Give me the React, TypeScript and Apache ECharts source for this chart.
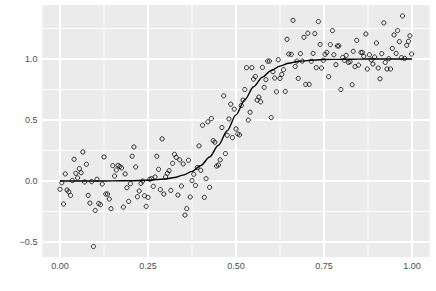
import React, { useEffect, useRef } from "react";
import * as echarts from "echarts";

// Scatter points
const pointX = [
  0.000, 0.005, 0.010, 0.015, 0.020, 0.025, 0.030, 0.035, 0.040, 0.045,
  0.050, 0.055, 0.060, 0.065, 0.070, 0.075, 0.080, 0.085, 0.090, 0.095,
  0.100, 0.105, 0.110, 0.115, 0.120, 0.125, 0.130, 0.135, 0.140, 0.145,
  0.150, 0.155, 0.160, 0.165, 0.170, 0.175, 0.180, 0.185, 0.190, 0.195,
  0.200, 0.205, 0.210, 0.215, 0.220, 0.225, 0.230, 0.235, 0.240, 0.245,
  0.250, 0.255,
  0.260, 0.265, 0.270, 0.275, 0.280, 0.285, 0.290, 0.295, 0.300, 0.305,
  0.310, 0.315, 0.320, 0.325, 0.330, 0.335, 0.340, 0.345, 0.350, 0.355,
  0.360, 0.365, 0.370, 0.375, 0.380, 0.385, 0.390, 0.395, 0.400, 0.405,
  0.410, 0.415, 0.420, 0.425, 0.430, 0.435, 0.440, 0.445, 0.450, 0.455,
  0.460, 0.465, 0.470, 0.475, 0.480, 0.485, 0.490, 0.495, 0.500, 0.505,
  0.510, 0.515, 0.520, 0.525, 0.530, 0.535, 0.540, 0.545, 0.550, 0.555,
  0.560, 0.565, 0.570, 0.575, 0.580, 0.585, 0.590, 0.595, 0.600, 0.605,
  0.610, 0.615, 0.620, 0.625, 0.630, 0.635, 0.640, 0.645, 0.650,
  0.657, 0.662, 0.668, 0.673, 0.677, 0.683, 0.688, 0.693, 0.698, 0.704,
  0.708, 0.714, 0.719, 0.724, 0.728, 0.734, 0.739, 0.743, 0.748, 0.753,
  0.758, 0.763, 0.768, 0.774, 0.778, 0.784, 0.788, 0.792, 0.798, 0.803,
  0.808, 0.813, 0.819, 0.824,
  0.830, 0.833, 0.838, 0.843, 0.848, 0.855, 0.859, 0.863, 0.869, 0.873,
  0.879, 0.884, 0.889, 0.894, 0.899, 0.904, 0.909, 0.914, 0.920, 0.924,
  0.929, 0.934, 0.939, 0.944, 0.949, 0.955, 0.959, 0.964, 0.970, 0.973,
  0.979, 0.985, 0.990, 0.994, 0.999,
];
const pointY = [
  -0.068, -0.014, -0.189, 0.058, -0.074, -0.088, -0.118, 0.005, 0.178, 0.063,
  0.025, 0.101, 0.068, 0.238, -0.008, 0.137, -0.118, -0.181, -0.005, -0.537,
  -0.241, 0.014, -0.184, -0.194, -0.025, 0.197, -0.107, -0.107, -0.148, -0.227,
  0.126, 0.041, 0.090, 0.129, 0.118, 0.107, -0.214, 0.058, -0.055, -0.167,
  -0.022, 0.203, 0.279, 0.115, -0.129, -0.082, -0.019, 0.000, -0.121, -0.208,
  -0.134, 0.014,
  0.019, -0.044, 0.033, 0.203, 0.096, -0.071, 0.345, -0.107, 0.033, 0.063,
  0.085, -0.077, 0.145, 0.219, 0.194, -0.115, 0.173, -0.041, 0.140, -0.279,
  -0.227, 0.170, -0.131, 0.003, 0.055, -0.036, 0.110, 0.288, 0.088, 0.457,
  -0.134, 0.019, 0.485, -0.052, 0.512, 0.331, 0.318, 0.123, 0.131, 0.173,
  0.438, 0.698, 0.225, 0.375, 0.509, 0.630, 0.356, 0.589, 0.427, 0.386,
  0.378, 0.619, 0.663, 0.750, 0.929, 0.499, 0.564, 0.929, 0.835, 0.857,
  0.663, 0.688, 0.649, 0.931, 0.767, 0.830, 0.983, 0.983, 0.520, 0.896,
  0.844, 0.731, 0.994, 0.841, 0.874, 0.912, 0.734, 1.161, 1.041,
  1.038, 1.317, 0.939, 0.983, 0.841, 1.044, 0.983, 1.178, 0.792, 1.211,
  0.792, 0.981, 1.046, 1.208, 0.929, 1.307, 1.120, 0.926, 0.989, 1.038,
  1.054, 0.855, 1.118, 1.233, 1.035, 0.953, 1.107, 1.107, 0.750, 1.013,
  0.989, 1.030, 0.972, 0.978,
  0.789, 1.063, 0.937, 1.153, 0.950, 1.054, 1.054, 1.022, 1.205, 0.918,
  1.035, 0.992, 0.959, 1.016, 1.131, 0.926, 0.838, 1.044, 1.296, 0.972,
  0.918, 1.002, 0.918, 1.087, 1.197, 1.046, 1.233, 1.142, 1.011, 1.353,
  1.005, 1.112, 1.145, 1.190, 1.041,
];

// Fitted curve
const curveX = [
  0, 0.05, 0.1, 0.15, 0.2, 0.25, 0.275, 0.3, 0.325, 0.35, 0.375, 0.4, 0.425,
  0.45, 0.475, 0.5, 0.525, 0.55, 0.575, 0.6, 0.625, 0.65, 0.675, 0.7, 0.725,
  0.75, 0.8, 0.85, 0.9, 0.95, 1.0,
];
const curveY = [
  0.0, 0.0, 0.0003, 0.0008, 0.0022, 0.006, 0.011, 0.017, 0.029, 0.048, 0.079,
  0.127, 0.197, 0.293, 0.412, 0.542, 0.667, 0.772, 0.851, 0.906, 0.942,
  0.965, 0.979, 0.987, 0.992, 0.996, 0.998, 0.999, 1.0, 1.0, 1.0,
];

const xTicks = [0, 0.25, 0.5, 0.75, 1];
const xMinor = [0.125, 0.375, 0.625, 0.875];
const yTicks = [-0.5, 0, 0.5, 1];
const yMinor = [-0.25, 0.25, 0.75, 1.25];

// Axis ranges chosen so that grid lines fall on whole pixels
const X_MIN = -0.05;
const X_MAX = 1.05;
const Y_MIN = -0.62295;
const Y_MAX = 1.44262;

export default function App() {
  const ref = useRef<HTMLDivElement>(null);
  useEffect(() => {
    const chart = echarts.init(ref.current!, null, { renderer: "svg" });
    const gridSeries = (data: number[][], width: number) => ({
      type: "line",
      data,
      showSymbol: false,
      silent: true,
      z: 2,
      lineStyle: { color: "#FFFFFF", width, opacity: 1 },
    });
    const gridLines: any[] = [];
    xMinor.forEach((v) => gridLines.push(gridSeries([[v, Y_MIN], [v, Y_MAX]], 1)));
    yMinor.forEach((v) => gridLines.push(gridSeries([[X_MIN, v], [X_MAX, v]], 1)));
    xTicks.forEach((v) => gridLines.push(gridSeries([[v, Y_MIN], [v, Y_MAX]], 2)));
    yTicks.forEach((v) => gridLines.push(gridSeries([[X_MIN, v], [X_MAX, v]], 2)));
    const labelStyle = {
      color: "#4D4D4D",
      fontSize: 9,
      fontFamily: "Liberation Sans",
    };
    const fmt = (v: number, d: number) => {
      const s = Math.abs(v).toFixed(d);
      return v < 0 ? "\u2212" + s : s;
    };
    chart.setOption({
      animation: false,
      grid: {
        left: 42.4,
        right: 6.4,
        top: 5,
        bottom: 34,
        show: true,
        backgroundColor: "#EBEBEB",
        borderWidth: 0,
      },
      xAxis: {
        type: "value",
        min: X_MIN,
        max: X_MAX,
        axisLine: { show: false },
        splitLine: { show: false },
        axisTick: {
          show: true,
          customValues: xTicks,
          length: 3,
          lineStyle: { color: "#333333", width: 1 },
        },
        axisLabel: {
          ...labelStyle,
          customValues: xTicks,
          margin: 4,
          formatter: (v: number) => fmt(v, 2),
        },
      },
      yAxis: {
        type: "value",
        min: Y_MIN,
        max: Y_MAX,
        axisLine: { show: false },
        splitLine: { show: false },
        axisTick: {
          show: true,
          customValues: yTicks,
          length: 3,
          lineStyle: { color: "#333333", width: 1 },
        },
        axisLabel: {
          ...labelStyle,
          customValues: yTicks,
          margin: 5,
          formatter: (v: number) => fmt(v, 1),
        },
      },
      series: [
        ...gridLines,
        {
          type: "scatter",
          data: pointX.map((x, i) => [x, pointY[i]]),
          symbol: "circle",
          symbolSize: 4.2,
          itemStyle: {
            color: "rgba(0,0,0,0)",
            borderColor: "#000000",
            borderWidth: 1,
          },
          z: 3,
        },
        {
          type: "line",
          data: curveX.map((x, i) => [x, curveY[i]]),
          smooth: 0.3,
          smoothMonotone: "x",
          showSymbol: false,
          lineStyle: { color: "#000000", width: 1.4 },
          z: 4,
        },
      ],
    });
    return () => chart.dispose();
  }, []);
  return (
    <div
      ref={ref}
      style={{ position: "absolute", left: 0, top: 0, width: 436, height: 291 }}
    />
  );
}
